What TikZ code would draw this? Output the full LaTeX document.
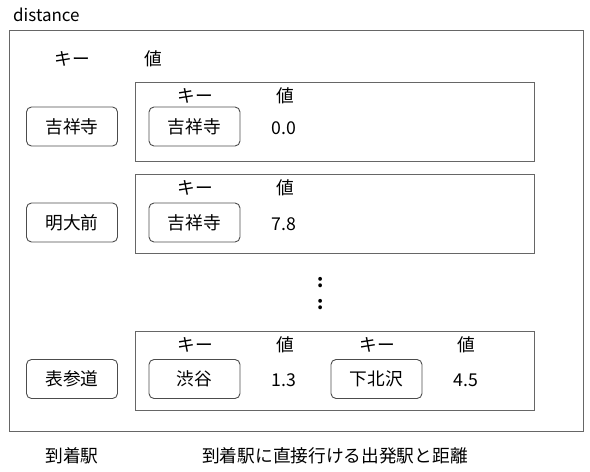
\documentclass[tikz,border=0pt]{standalone}
\usepackage{fontspec}
\setmainfont{Noto Sans CJK JP}
\usetikzlibrary{positioning}

\begin{document}
\begin{tikzpicture}[x=1pt, y=-1pt, font=\fontsize{17.7}{20}\selectfont,
  keybox/.style={draw=gray!60!black, line width=0.9pt, rounded corners=5pt, minimum width=91pt, minimum height=39pt, inner sep=0pt},
  mapbox/.style={draw=gray!80!black, line width=0.9pt, inner sep=0pt, anchor=north west},
  lbl/.style={inner sep=0pt}]
  \useasboundingbox (0,0) rectangle (590,472);
  % outer map
  \node[lbl, anchor=west] (title) at (13,15) {\fontsize{17}{20}\selectfont distance};
  \node[mapbox, minimum width=574pt, minimum height=401pt] (dist) at (9,30) {};
  \node[lbl] (hkey) at (72,59) {キー};
  \node[lbl] (hval) at (153,59) {値};
  % one row per arrival station: key, then inner map
  \foreach \n/\st/\yt/\ky/\dest/\val in {1/吉祥寺/82/126.5/吉祥寺/0.0, 2/明大前/174/222.5/吉祥寺/7.8, 3/表参道/331/379/渋谷/1.3} {
    \node[keybox] (k\n) at (72,\ky) {\st};
    \node[mapbox, minimum width=399pt, minimum height=79pt] (m\n) at (135,\yt) {};
    \node[lbl] (mk\n) at (195,\yt+13.5) {キー};
    \node[lbl] (mv\n) at (285,\yt+13.5) {値};
    \node[keybox] (d\n) at (194.5,\ky) {\dest};
    \node[lbl] (v\n) at (284,\ky+1.5) {\val};
  }
  % second entry of last row
  \node[lbl] (mk4) at (377,344.5) {キー};
  \node[lbl] (mv4) at (466,344.5) {値};
  \node[keybox] (d4) at (376.5,379) {下北沢};
  \node[lbl] (v4) at (466,380.5) {4.5};
  % skipped rows
  \node[lbl] (dots1) at (321,283) {\textbf{:}};
  \node[lbl] (dots2) at (321,305) {\textbf{:}};
  % captions
  \node[lbl] (lkey) at (72,456) {到着駅};
  \node[lbl] (lval) at (335,456) {到着駅に直接行ける出発駅と距離};
\end{tikzpicture}
\end{document}
